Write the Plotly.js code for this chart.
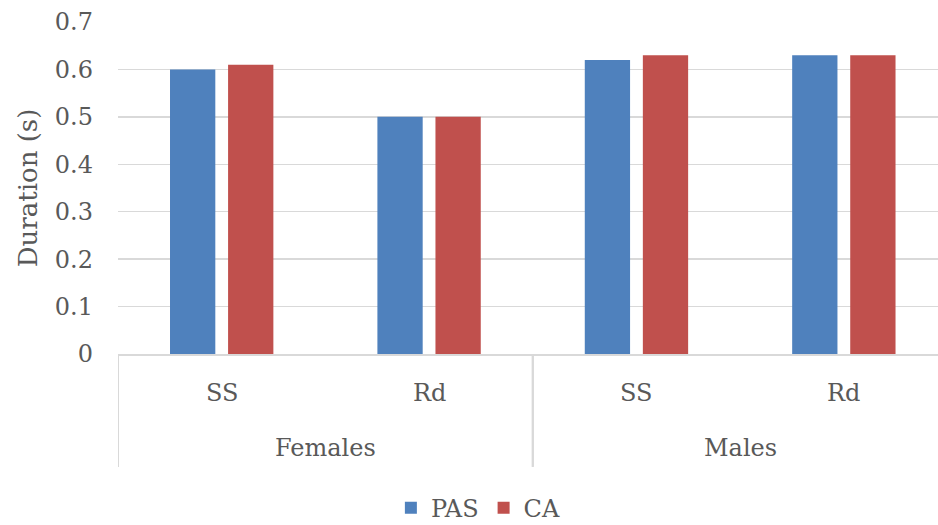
<!DOCTYPE html>
<html>
<head>
<meta charset="utf-8">
<script src="https://cdn.plot.ly/plotly-3.0.1.min.js"></script>
<style>
  html, body { margin: 0; padding: 0; background: #fff; }
  #chart { width: 938px; height: 525px; }
</style>
</head>
<body>
<div id="chart"></div>
<script>
// Gesture duration by sex and condition
const groups = ["Females", "Females", "Males", "Males"];
const conditions = ["SS", "Rd", "SS", "Rd"];
const pasValues = [0.60, 0.50, 0.62, 0.63];
const caValues = [0.61, 0.50, 0.63, 0.63];

const FONT = "DejaVu Serif, Liberation Serif, serif";
const GRID = "#D9D9D9";
const TEXT = "#595959";

// one unique category per bar pair; the two label rows are drawn below the axis
const keys = groups.map((g, i) => g + " " + conditions[i]);

const traces = [
  { type: "bar", name: "PAS", x: keys, y: pasValues,
    marker: { color: "#4F81BD" }, hoverinfo: "skip" },
  { type: "bar", name: "CA", x: keys, y: caValues,
    marker: { color: "#C0504D" }, hoverinfo: "skip" }
];

// inner row: condition under each category
const annotations = conditions.map((c, i) => ({
  xref: "x", yref: "paper", x: i, y: -0.1175, yanchor: "middle",
  text: c, showarrow: false, font: { family: FONT, size: 24, color: TEXT }
}));

// outer row: group name centred over its categories, dividers at group edges
const shapes = [];
const groupNames = [...new Set(groups)];
groupNames.forEach(g => {
  const idx = groups.map((v, i) => v === g ? i : -1).filter(i => i >= 0);
  const first = idx[0], last = idx[idx.length - 1];
  annotations.push({
    xref: "x", yref: "paper", x: (first + last) / 2, y: -0.283, yanchor: "middle",
    text: g, showarrow: false, font: { family: FONT, size: 24, color: TEXT }
  });
  [first - 0.5, last + 0.5].forEach(xv => shapes.push({
    type: "line", xref: "x", yref: "paper", x0: xv, x1: xv, y0: 0, y1: -0.34,
    line: { color: GRID, width: 2 }
  }));
});

const layout = {
  width: 938, height: 525,
  margin: { l: 118, r: 0, t: 22, b: 171 },
  paper_bgcolor: "#fff", plot_bgcolor: "#fff",
  font: { family: FONT, size: 24, color: TEXT },
  barmode: "group",
  bargap: 0.44,
  bargroupgap: 0.22,
  showlegend: true,
  legend: {
    orientation: "h", xref: "container", yref: "container",
    x: 0.51, xanchor: "center", y: 0.032, yanchor: "middle",
    font: { family: FONT, size: 24, color: TEXT }
  },
  annotations: annotations,
  shapes: shapes,
  xaxis: {
    type: "category",
    showline: true, linecolor: GRID, linewidth: 2,
    showticklabels: false, ticks: "", showgrid: false,
    // the last category runs slightly past the right edge of the figure
    range: [-0.5, 3.454]
  },
  yaxis: {
    range: [0, 0.7], dtick: 0.1, tick0: 0,
    showgrid: true, gridcolor: GRID, gridwidth: 1.5,
    zeroline: false, showline: false, ticks: "",
    ticklabelstandoff: 24,
    tickfont: { family: FONT, size: 24, color: TEXT },
    title: { text: "Duration (s)", font: { family: FONT, size: 26, color: TEXT }, standoff: 9 }
  }
};

Plotly.newPlot("chart", traces, layout, { displayModeBar: false, staticPlot: true });
</script>
</body>
</html>
